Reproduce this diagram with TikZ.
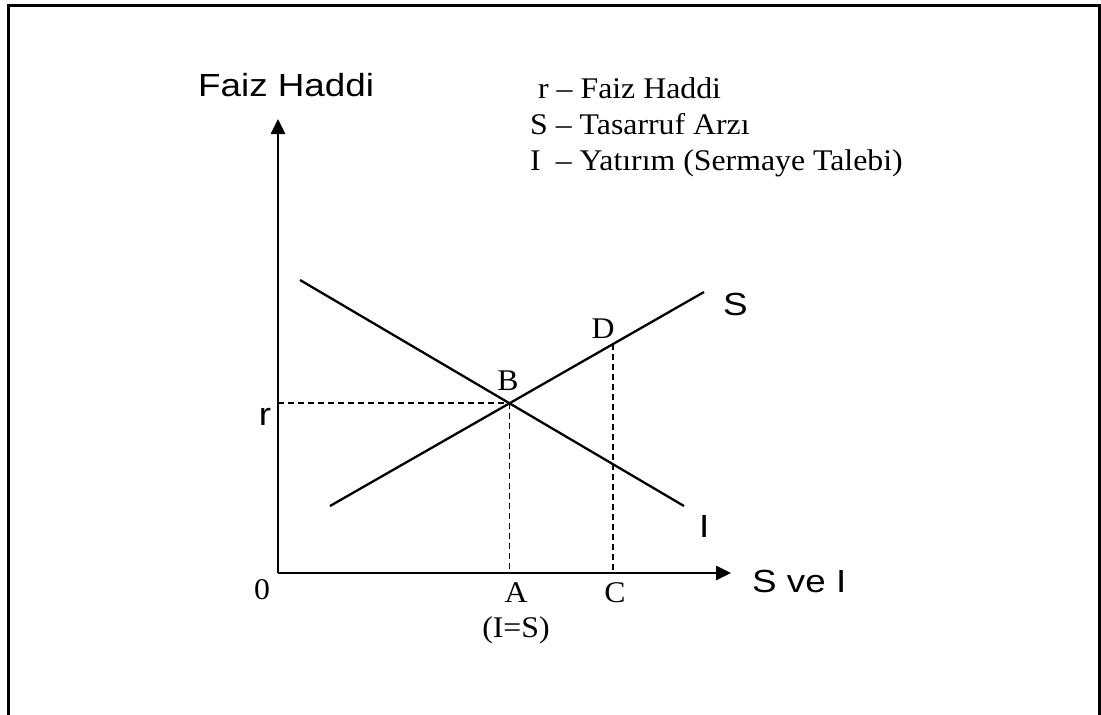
\documentclass[tikz,border=0pt]{standalone}
\usepackage{fontspec}
\setmainfont{Liberation Serif}[FakeStretch=1.06]
\newfontfamily\arialfont{Liberation Sans}[FakeStretch=1.15]
\usetikzlibrary{arrows.meta, positioning, calc}
\tikzstyle{frame} = [line width=3pt]
\tikzstyle{axis} = [line width=2.6pt, -{Triangle[length=15pt,width=14pt]}]
\tikzstyle{curve} = [line width=2.3pt]
\tikzstyle{guide} = [line width=1.8pt, dash pattern=on 6pt off 4pt]
\tikzstyle{tlabel} = [inner sep=0pt, font=\fontsize{30}{34}\selectfont]
\tikzstyle{alabel} = [inner sep=0pt, font=\arialfont\fontsize{32}{36}\selectfont]

\begin{document}
\begin{tikzpicture}[x=1pt, y=-1pt]
    \useasboundingbox (0,0) rectangle (1101,715);
    \draw [frame] (8,715) -- (8,5) -- (1099,5) -- (1099,715);

    % axes
    \coordinate (O) at (278,573);
    \coordinate (ytip) at (278,119);
    \coordinate (xtip) at (731,573);
    \draw [axis] (O) -- (ytip);
    \draw [axis] (O) -- (xtip);
    \node (ylab) [alabel, anchor=base west] at (198,96) {Faiz Haddi};
    \node (xlab) [alabel, anchor=base west] at (752,592) {S ve I};
    \node (zero) [tlabel, anchor=base] at (262,599) {0};

    % curves
    \coordinate (i1) at (300,280);
    \coordinate (i2) at (684,506);
    \coordinate (s1) at (330,506);
    \coordinate (s2) at (704,292);
    \draw [curve] (i1) -- (i2);
    \draw [curve] (s1) -- (s2);
    \node (ilab) [alabel, anchor=base west] at (699,537) {I};
    \node (slab) [alabel, anchor=base west] at (723,315) {S};

    % equilibrium and guides
    \coordinate (B) at (intersection of i1--i2 and s1--s2);
    \coordinate (D) at ($(s1)!0.757!(s2)$);
    \coordinate (Ayax) at (O -| B);
    \coordinate (Ryax) at (O |- B);
    \coordinate (Cax) at (O -| D);
    \draw [guide] (Ryax) -- (B);
    \draw [guide] (B) -- (Ayax);
    \draw [guide] (D) -- (Cax);
    \node (blab) [tlabel, anchor=base] at (508,390) {B};
    \node (dlab) [tlabel, anchor=base] at (603,338) {D};
    \node (alab) [tlabel, anchor=base] at (516,602) {A};
    \node (clab) [tlabel, anchor=base] at (615,602) {C};
    \node (eq) [tlabel, anchor=base] at (516,637) {(I=S)};
    \node (rlab) [alabel, anchor=base] at (265,425) {r};

    % legend
    \node (leg1) [tlabel, anchor=base west] at (538,98) {r – Faiz Haddi};
    \node (leg2) [tlabel, anchor=base west] at (530,134) {S – Tasarruf Arzı};
    \node (leg3) [tlabel, anchor=base west] at (530,170) {I\enspace– Yatırım (Sermaye Talebi)};
\end{tikzpicture}
\end{document}
